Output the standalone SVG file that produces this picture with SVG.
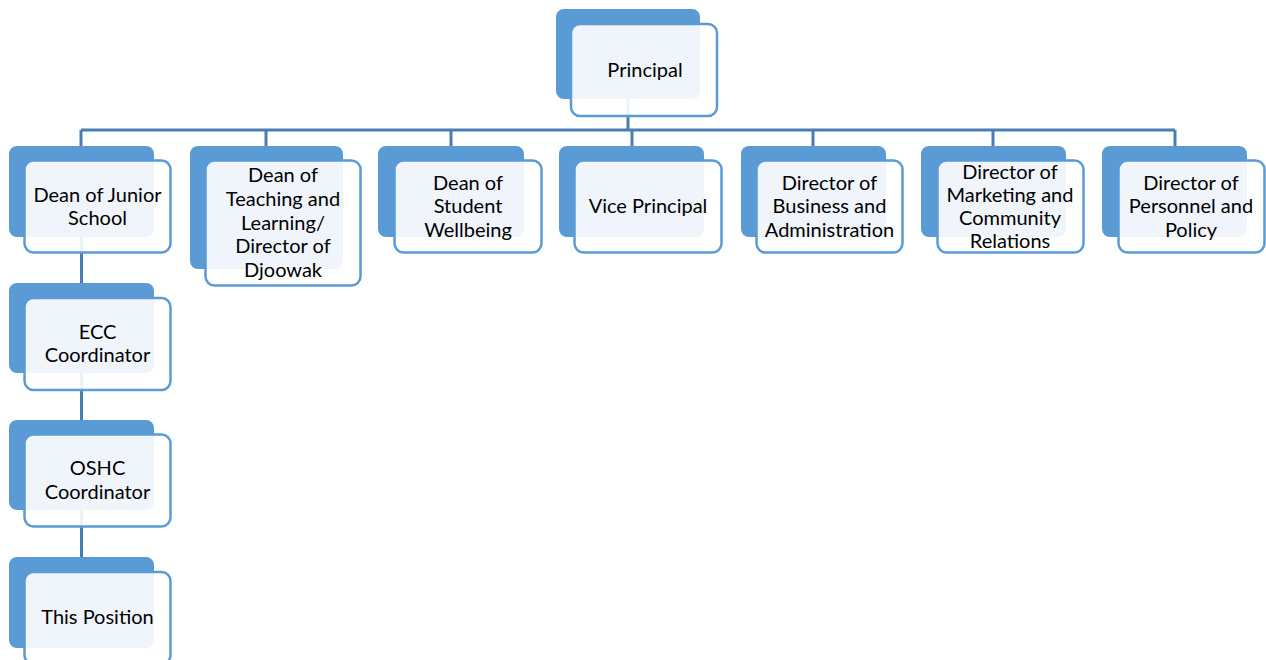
<svg xmlns="http://www.w3.org/2000/svg" width="1266" height="660" viewBox="0 0 1266 660">
<style>
.back{fill:#5B9BD5;}
.front{fill:#FFFFFF;fill-opacity:0.9;stroke:#5B9BD5;stroke-width:2.5;}
.conn{fill:none;stroke:#4A7EB0;stroke-width:3;}
.t{font-family:Lato,"Liberation Sans",sans-serif;font-size:20px;fill:#000;text-anchor:middle;}
</style>
<rect width="1266" height="660" fill="#FFFFFF"/>
<g id="connectors">
<path class="conn" d="M628 99V130M81 130H1175M81 130V146M266 130V146M451 130V146M632 130V146M813 130V146M993 130V146M1175 130V146"/>
<path class="conn" d="M81.5 237V283M81.5 373V420M81.5 510V557"/>
</g>
<g id="principal">
<rect class="back" x="556" y="9" width="144" height="90" rx="8"/>
<rect class="front" x="571" y="24" width="146" height="92" rx="9"/>
<text class="t" x="645" y="77">Principal</text>
</g>
<g id="dean-junior">
<rect class="back" x="9" y="146" width="145" height="91" rx="8"/>
<rect class="front" x="24.5" y="160.5" width="146" height="92" rx="9"/>
<text class="t" x="97.5" y="202">Dean of Junior</text>
<text class="t" x="97.5" y="225">School</text>
</g>
<g id="dean-teaching">
<rect class="back" x="190" y="146" width="153" height="123" rx="8"/>
<rect class="front" x="205.5" y="160.5" width="155" height="125" rx="9"/>
<text class="t" x="283" y="182">Dean of</text>
<text class="t" x="283" y="206">Teaching and</text>
<text class="t" x="283" y="230">Learning/</text>
<text class="t" x="283" y="253">Director of</text>
<text class="t" x="283" y="277">Djoowak</text>
</g>
<g id="dean-wellbeing">
<rect class="back" x="378" y="146" width="146" height="91" rx="8"/>
<rect class="front" x="394.5" y="160.5" width="147" height="92" rx="9"/>
<text class="t" x="468" y="190">Dean of</text>
<text class="t" x="468" y="213">Student</text>
<text class="t" x="468" y="237">Wellbeing</text>
</g>
<g id="vice-principal">
<rect class="back" x="559" y="146" width="145" height="91" rx="8"/>
<rect class="front" x="574.5" y="160.5" width="147" height="92" rx="9"/>
<text class="t" x="648" y="213">Vice Principal</text>
</g>
<g id="dir-business">
<rect class="back" x="741" y="146" width="145" height="91" rx="8"/>
<rect class="front" x="756.5" y="160.5" width="146" height="92" rx="9"/>
<text class="t" x="829.5" y="190">Director of</text>
<text class="t" x="829.5" y="213">Business and</text>
<text class="t" x="829.5" y="237">Administration</text>
</g>
<g id="dir-marketing">
<rect class="back" x="921" y="146" width="145" height="91" rx="8"/>
<rect class="front" x="937.5" y="160.5" width="146" height="92" rx="9"/>
<text class="t" x="1010" y="179">Director of</text>
<text class="t" x="1010" y="202">Marketing and</text>
<text class="t" x="1010" y="225">Community</text>
<text class="t" x="1010" y="248">Relations</text>
</g>
<g id="dir-personnel">
<rect class="back" x="1102" y="146" width="145" height="91" rx="8"/>
<rect class="front" x="1118.5" y="160.5" width="146" height="92" rx="9"/>
<text class="t" x="1191" y="190">Director of</text>
<text class="t" x="1191" y="213">Personnel and</text>
<text class="t" x="1191" y="237">Policy</text>
</g>
<g id="ecc">
<rect class="back" x="9" y="283" width="145" height="90" rx="8"/>
<rect class="front" x="24.5" y="298" width="146" height="92" rx="9"/>
<text class="t" x="97.5" y="339">ECC</text>
<text class="t" x="97.5" y="362">Coordinator</text>
</g>
<g id="oshc">
<rect class="back" x="9" y="420" width="145" height="90" rx="8"/>
<rect class="front" x="24.5" y="434.5" width="146" height="92" rx="9"/>
<text class="t" x="97.5" y="475">OSHC</text>
<text class="t" x="97.5" y="499">Coordinator</text>
</g>
<g id="this-position">
<rect class="back" x="9" y="557" width="145" height="91" rx="8"/>
<rect class="front" x="24.5" y="572" width="146" height="92" rx="9"/>
<text class="t" x="97.5" y="624">This Position</text>
</g>
</svg>
